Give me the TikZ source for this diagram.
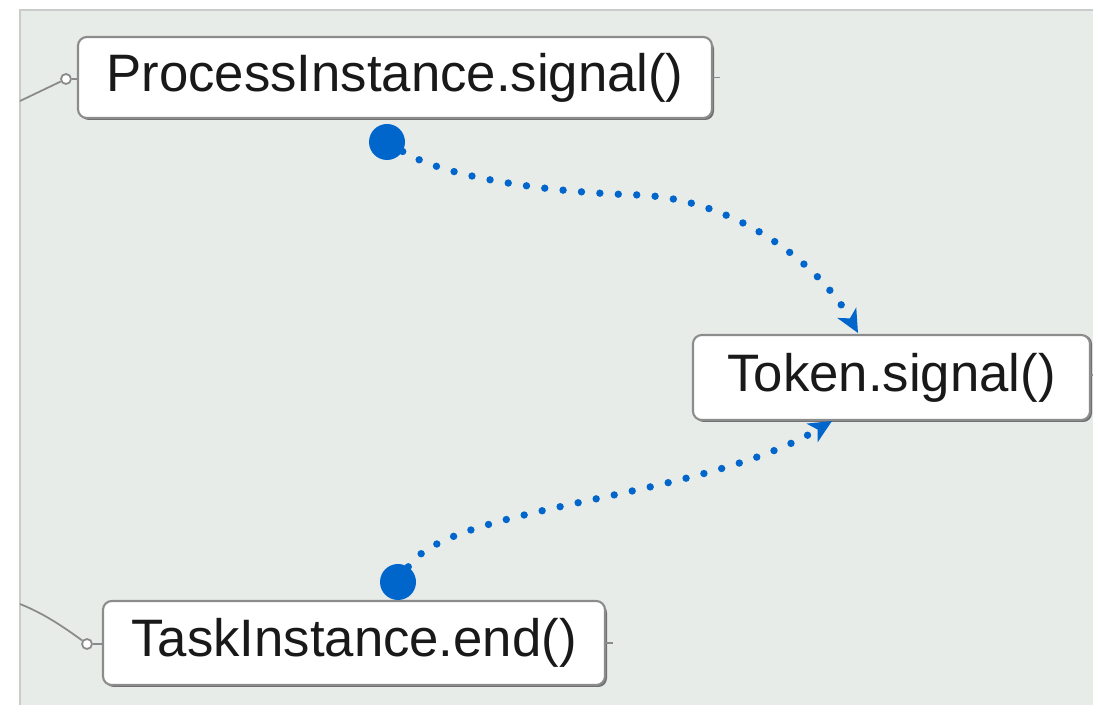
\documentclass[tikz,border=0pt]{standalone}
\usepackage{fontspec}
\setmainfont{Liberation Sans}
\usetikzlibrary{arrows.meta,calc}
\definecolor{panel}{HTML}{E8ECE9}
\definecolor{panelborder}{HTML}{C9CCCA}
\definecolor{boxborder}{HTML}{8C8C8C}
\definecolor{boxshadow}{HTML}{6E6E6E}
\definecolor{linkblue}{HTML}{0066CC}
\definecolor{stubgray}{HTML}{8A8A8A}
\tikzset{
  topic/.style={draw=boxborder, line width=1.2pt, fill=white, rounded corners=5pt,
    inner sep=0pt, font=\fontsize{30}{36}\selectfont, text=black!90},
  shadowbox/.style={fill=boxshadow, rounded corners=5pt},
  anchordot/.style={circle, fill=linkblue, inner sep=0pt, minimum size=36*0.02cm},
  link/.style={linkblue, line width=4.2pt, line cap=round, dash pattern=on 0pt off 10.5pt,
    -{Stealth[length=13pt,width=12pt,inset=3.5pt]}},
  stub/.style={stubgray, line width=1pt},
  stubknob/.style={circle, draw=stubgray, fill=white, line width=1pt, inner sep=0pt, minimum size=10*0.02cm}
}
\begin{document}
\begin{tikzpicture}[x=0.02cm,y=-0.02cm]
\useasboundingbox (0,0) rectangle (1093,705);
\fill[white] (0,0) rectangle (1093,705);
\filldraw[fill=panel, draw=panelborder, line width=1pt] (20,10) rectangle (1100,712);

% shadows
\fill[shadowbox] (80,40) rectangle (714,120);
\fill[shadowbox] (695,335) rectangle (1092,422);
\fill[shadowbox] (105,604) rectangle (607,687);

% topic boxes
\node[topic, minimum width=634*0.02cm, minimum height=81*0.02cm] (pi) at (395,77.5) {ProcessInstance.signal()};
\node[topic, minimum width=397*0.02cm, minimum height=85*0.02cm] (tok) at (891.5,377.5) {Token.signal()};
\node[topic, minimum width=502*0.02cm, minimum height=84*0.02cm] (ti) at (354,643) {TaskInstance.end()};

% left stubs
\node[stubknob] (k1) at (66,79) {};
\coordinate (s1) at (20,101);
\draw[stub] (s1) -- (k1);
\draw[stub] (k1) -- (pi.west |- k1);
\node[stubknob] (k2) at (87,644) {};
\coordinate (s2) at (20,604);
\draw[stub] (s2) .. controls (45,614) and (65,628) .. (k2);
\draw[stub] (k2) -- (ti.west |- k2);

% right stubs
\coordinate (r1) at (720,77.5);
\draw[stub] (pi.east) -- (r1);
\coordinate (r2) at (1093,375);
\draw[stub] (tok.east |- r2) -- (r2);
\coordinate (r3) at (613,643);
\draw[stub] (ti.east) -- (r3);

% relationship anchors
\node[anchordot] (d1) at (387,142) {};
\node[anchordot] (d2) at (398,582) {};
\coordinate (m1) at (640,195);
\coordinate (e1) at (858,333);
\coordinate (e2) at (832,421);

\draw[link] (d1) .. controls (450,180) and (560,193) .. (m1)
               .. controls (740,200) and (822,268) .. (e1);
\draw[link] (d2) .. controls (450,505) and (700,500) .. (e2);
\end{tikzpicture}
\end{document}
